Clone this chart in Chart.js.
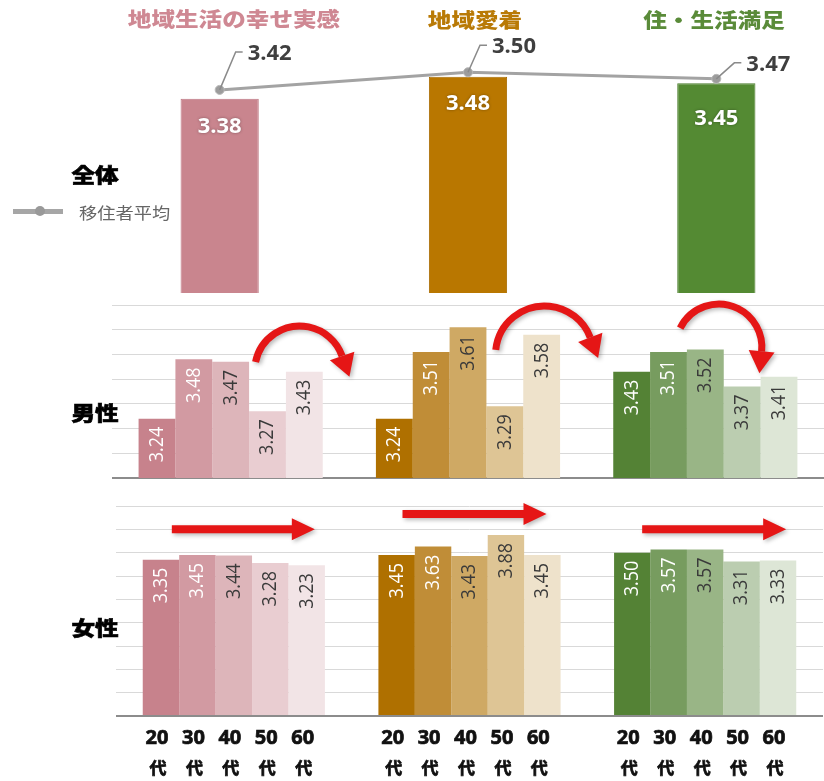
<!DOCTYPE html>
<html lang="ja">
<head>
<meta charset="utf-8">
<script src="https://cdn.jsdelivr.net/npm/chart.js@4.4.1/dist/chart.umd.min.js"></script>
<style>
html,body{margin:0;padding:0;background:#fff;width:824px;height:781px;overflow:hidden;}
#wrap{position:relative;width:824px;height:781px;overflow:hidden;}
#wrap canvas{position:absolute;}
.lbl{position:absolute;white-space:nowrap;line-height:1;font-family:"Noto Sans CJK JP","Noto Sans",sans-serif;}
</style>
</head>
<body>
<div id="wrap">
  <canvas id="overall" width="756" height="300" style="left:90px;top:0"></canvas>
  <canvas id="male" width="824" height="190" style="left:0;top:295px"></canvas>
  <canvas id="female" width="824" height="291" style="left:0;top:490px"></canvas>
</div>
<script>
// ---- data ----
const categories = ['地域生活の幸せ実感', '地域愛着', '住・生活満足'];
const ageGroups = ['20代', '30代', '40代', '50代', '60代'];

const overallValues = [3.38, 3.48, 3.45];   // 全体
const migrantAverage = [3.42, 3.50, 3.47];  // 移住者平均

const maleHappiness    = [3.24, 3.48, 3.47, 3.27, 3.43];
const maleAttachment   = [3.24, 3.51, 3.61, 3.29, 3.58];
const maleSatisfaction = [3.43, 3.51, 3.52, 3.37, 3.41];

const femaleHappiness    = [3.35, 3.45, 3.44, 3.28, 3.23];
const femaleAttachment   = [3.45, 3.63, 3.43, 3.88, 3.45];
const femaleSatisfaction = [3.50, 3.57, 3.57, 3.31, 3.33];

// ---- styles ----
const titleColors = ['#CF8893', '#B97A06', '#5A8B39'];
const overallColors = ['#C9858E', '#B97700', '#548A33'];
const overallBorders = ['#BD7782', '#A96C00', '#4A7D2C'];
const shades = [            // per age group: [幸せ実感, 愛着, 満足]
  ['#C7828C', '#AF7000', '#548235'],
  ['#D29AA2', '#C08D37', '#779C5F'],
  ['#DDB5BA', '#CFA964', '#99B586'],
  ['#E9CDD1', '#DEC595', '#BBCDB0'],
  ['#F2E4E6', '#EEE2CB', '#DDE6D6']
];
const valueTextColors = ['#FFFFFF', '#FFFFFF', '#3A3A3A', '#3A3A3A', '#3A3A3A'];
const ARROW_RED = '#E51616';

// ---- html labels ----
const wrap = document.getElementById('wrap');
function addLabel(text, x, y, opts) {
  const d = document.createElement('div');
  d.className = 'lbl';
  d.textContent = text;
  d.style.left = x + 'px';
  d.style.top = y + 'px';
  d.style.fontSize = opts.size + 'px';
  d.style.fontWeight = opts.weight || 700;
  d.style.color = opts.color || '#000';
  if (opts.stroke) d.style.webkitTextStroke = opts.stroke;
  const sx = opts.sx || 1.18;
  if (opts.anchor === 'left') {
    d.style.transformOrigin = 'left center';
    d.style.transform = 'translate(0,-50%) scaleX(' + sx + ')';
  } else {
    d.style.transform = 'translate(-50%,-50%) scaleX(' + sx + ')';
  }
  d.style.zIndex = 5;
  wrap.appendChild(d);
}
const titleCenters = [[234, 19], [475, 20], [714, 20]];
categories.forEach((c, i) => addLabel(c, titleCenters[i][0], titleCenters[i][1], {size: 20, weight: 900, color: titleColors[i]}));
addLabel('全体', 95, 175, {size: 20, weight: 900, stroke: '0.6px #000'});
addLabel('男性', 95, 413, {size: 20, weight: 900, stroke: '0.6px #000'});
addLabel('女性', 95, 628, {size: 20, weight: 900, stroke: '0.6px #000'});
addLabel('移住者平均', 79, 212, {size: 16, weight: 400, color: '#666', anchor: 'left', sx: 1.14});

// legend symbol for the line series
const legLine = document.createElement('div');
legLine.style.cssText = 'position:absolute;left:13px;top:209px;width:50px;height:5px;background:#A6A6A6;z-index:5;';
wrap.appendChild(legLine);
const legDot = document.createElement('div');
legDot.style.cssText = 'position:absolute;left:35px;top:206px;width:10px;height:10px;border-radius:50%;background:#999;z-index:6;';
wrap.appendChild(legDot);

// ---- plugins ----
const overallLabels = {
  id: 'overallLabels',
  afterDatasetsDraw(chart) {
    const ctx = chart.ctx;
    // bar values inside the bars
    const barMeta = chart.getDatasetMeta(1);
    const barDy = [28, 27, 35];
    ctx.save();
    ctx.font = 'bold 22px "Open Sans", sans-serif';
    ctx.textAlign = 'center';
    ctx.textBaseline = 'middle';
    ctx.fillStyle = '#FFFFFF';
    ctx.shadowColor = 'rgba(0,0,0,0.35)';
    ctx.shadowBlur = 3;
    barMeta.data.forEach((el, i) => {
      ctx.fillText(overallValues[i].toFixed(2), el.x, el.y + barDy[i]);
    });
    ctx.restore();
    // line values with leader lines
    const lineMeta = chart.getDatasetMeta(0);
    const elbows = [[16, -38], [12, -27], [18, -16]];
    ctx.save();
    lineMeta.data.forEach((pt, i) => {
      const ex = pt.x + elbows[i][0], ey = pt.y + elbows[i][1];
      ctx.strokeStyle = '#8A8A8A';
      ctx.lineWidth = 1.5;
      ctx.beginPath();
      ctx.moveTo(pt.x, pt.y);
      ctx.lineTo(ex, ey);
      ctx.lineTo(ex + 7, ey);
      ctx.stroke();
      ctx.font = 'bold 22px "Open Sans", sans-serif';
      ctx.textAlign = 'left';
      ctx.textBaseline = 'middle';
      ctx.fillStyle = '#3F3F3F';
      ctx.fillText(migrantAverage[i].toFixed(2), ex + 12, ey + 2);
    });
    ctx.restore();
  }
};

// rotated value labels inside the age-group bars
const rotatedValues = {
  id: 'rotatedValues',
  afterDatasetsDraw(chart) {
    const ctx = chart.ctx;
    chart.data.datasets.forEach((ds, d) => {
      const meta = chart.getDatasetMeta(d);
      meta.data.forEach((el, j) => {
        ctx.save();
        ctx.translate(el.x, el.y + 8);
        ctx.rotate(-Math.PI / 2);
        ctx.scale(1, 1.15);
        ctx.font = '18px "Open Sans", sans-serif';
        ctx.textAlign = 'right';
        ctx.textBaseline = 'middle';
        ctx.fillStyle = valueTextColors[d];
        ctx.fillText(ds.data[j].toFixed(2), 0, 0);
        ctx.restore();
      });
    });
  }
};

function arrowShadow(ctx) {
  ctx.shadowColor = 'rgba(0,0,0,0.28)';
  ctx.shadowBlur = 4;
  ctx.shadowOffsetX = 2;
  ctx.shadowOffsetY = 2;
}

// curved arrows (男性)
const arcArrows = {
  id: 'arcArrows',
  afterDraw(chart, args, opts) {
    const ctx = chart.ctx;
    const xs = chart.scales.x, ys = chart.scales.y;
    (opts.items || []).forEach(a => {
      const cx = xs.getPixelForValue(a.cat) + a.dx;
      const cy = ys.getPixelForValue(a.y);
      const start = Math.PI + a.a0, end = 2 * Math.PI + a.a1;
      ctx.save();
      arrowShadow(ctx);
      ctx.fillStyle = ARROW_RED;
      ctx.strokeStyle = ARROW_RED;
      ctx.lineWidth = 7;
      ctx.beginPath();
      ctx.arc(cx, cy, a.r, start, end);
      ctx.stroke();
      const px = cx + a.r * Math.cos(end), py = cy + a.r * Math.sin(end);
      const tx = -Math.sin(end), ty = Math.cos(end);
      const nx = Math.cos(end), ny = Math.sin(end);
      ctx.beginPath();
      ctx.moveTo(px + nx * 13, py + ny * 13);
      ctx.lineTo(px + tx * 22, py + ty * 22);
      ctx.lineTo(px - nx * 13, py - ny * 13);
      ctx.closePath();
      ctx.fill();
      ctx.restore();
    });
  }
};

// straight arrows (女性)
const lineArrows = {
  id: 'lineArrows',
  afterDraw(chart, args, opts) {
    const ctx = chart.ctx;
    const xs = chart.scales.x, ys = chart.scales.y;
    (opts.items || []).forEach(a => {
      const c = xs.getPixelForValue(a.cat);
      const x0 = c + a.from, x1 = c + a.to;
      const y = ys.getPixelForValue(a.y);
      ctx.save();
      arrowShadow(ctx);
      ctx.fillStyle = ARROW_RED;
      ctx.beginPath();
      ctx.moveTo(x0, y - 4);
      ctx.lineTo(x1 - 23, y - 4);
      ctx.lineTo(x1 - 23, y - 11);
      ctx.lineTo(x1, y);
      ctx.lineTo(x1 - 23, y + 11);
      ctx.lineTo(x1 - 23, y + 4);
      ctx.lineTo(x0, y + 4);
      ctx.closePath();
      ctx.fill();
      ctx.restore();
    });
  }
};

// age labels under each bar ("20" / "代")
const ageAxis = {
  id: 'ageAxis',
  afterDraw(chart) {
    const ctx = chart.ctx;
    ctx.save();
    ctx.textAlign = 'center';
    ctx.textBaseline = 'middle';
    ctx.fillStyle = '#111';
    ctx.strokeStyle = '#111';
    ctx.lineWidth = 0.7;
    chart.data.datasets.forEach((ds, d) => {
      const meta = chart.getDatasetMeta(d);
      const txt = ageGroups[d];
      meta.data.forEach(el => {
        const x = el.x - 4;
        ctx.font = 'bold 20px "Noto Sans", sans-serif';
        ctx.fillText(txt.slice(0, -1), x, 248);
        ctx.strokeText(txt.slice(0, -1), x, 248);
        ctx.font = 'bold 17px "Noto Sans CJK JP", sans-serif';
        ctx.fillText(txt.slice(-1), x + 1, 278);
        ctx.strokeText(txt.slice(-1), x + 1, 278);
      });
    });
    ctx.restore();
  }
};

// ---- charts ----
new Chart(document.getElementById('overall'), {
  type: 'bar',
  data: {
    labels: categories,
    datasets: [
      {
        type: 'line', label: '移住者平均', data: migrantAverage,
        borderColor: '#A3A3A3', borderWidth: 3, tension: 0,
        pointRadius: 4.5, pointBackgroundColor: '#9C9C9C',
        pointBorderColor: '#B8B8B8', pointBorderWidth: 1, order: 0
      },
      {
        type: 'bar', label: '全体', data: overallValues,
        backgroundColor: overallColors, borderColor: overallBorders, borderWidth: 1,
        barPercentage: 0.315, categoryPercentage: 1, order: 1
      }
    ]
  },
  options: {
    responsive: false, animation: false,
    layout: {padding: {top: 6, bottom: 7, left: 0, right: 0}},
    plugins: {legend: {display: false}, tooltip: {enabled: false}},
    scales: {
      x: {display: false},
      y: {display: false, min: 2.5, max: 3.8}
    }
  },
  plugins: [overallLabels]
});

function ageDatasets(a, b, c, catPct) {
  return ageGroups.map((age, i) => ({
    label: age,
    data: [a[i], b[i], c[i]],
    backgroundColor: shades[i],
    borderWidth: 0,
    barPercentage: 1,
    categoryPercentage: catPct
  }));
}

function gridScale(min, max, step) {
  return {
    min: min, max: max,
    ticks: {display: false, stepSize: step},
    border: {display: false},
    grid: {
      drawTicks: false,
      color: c => (c.index === 0 ? '#8C8C8C' : '#D9D9D9'),
      lineWidth: c => (c.index === 0 ? 2 : 1)
    }
  };
}

new Chart(document.getElementById('male'), {
  type: 'bar',
  data: {labels: categories, datasets: ageDatasets(maleHappiness, maleAttachment, maleSatisfaction, 0.776)},
  options: {
    responsive: false, animation: false,
    layout: {padding: {top: 10, bottom: 7, left: 112, right: 0}},
    plugins: {
      legend: {display: false}, tooltip: {enabled: false},
      arcArrows: {items: [
        {cat: 0, dx: 69, y: 3.433, r: 45, a0: 0.2, a1: -0.34},
        {cat: 1, dx: 76.5, y: 3.498, r: 49, a0: 0.104, a1: -0.366},
        {cat: 2, dx: 13.5, y: 3.53, r: 43, a0: 0.454, a1: 0.1}
      ]}
    },
    scales: {x: {display: false}, y: gridScale(3.0, 3.7, 0.1)}
  },
  plugins: [rotatedValues, arcArrows]
});

new Chart(document.getElementById('female'), {
  type: 'bar',
  data: {labels: categories, datasets: ageDatasets(femaleHappiness, femaleAttachment, femaleSatisfaction, 0.773)},
  options: {
    responsive: false, animation: false,
    layout: {padding: {top: 16, bottom: 65, left: 116, right: 1}},
    plugins: {
      legend: {display: false}, tooltip: {enabled: false},
      lineArrows: {items: [
        {cat: 0, from: -62, to: 81, y: 4.0},
        {cat: 1, from: -67, to: 77, y: 4.33},
        {cat: 2, from: -63, to: 81, y: 4.0}
      ]}
    },
    scales: {x: {display: false}, y: gridScale(0, 4.5, 0.5)}
  },
  plugins: [rotatedValues, lineArrows, ageAxis]
});
</script>
</body>
</html>
